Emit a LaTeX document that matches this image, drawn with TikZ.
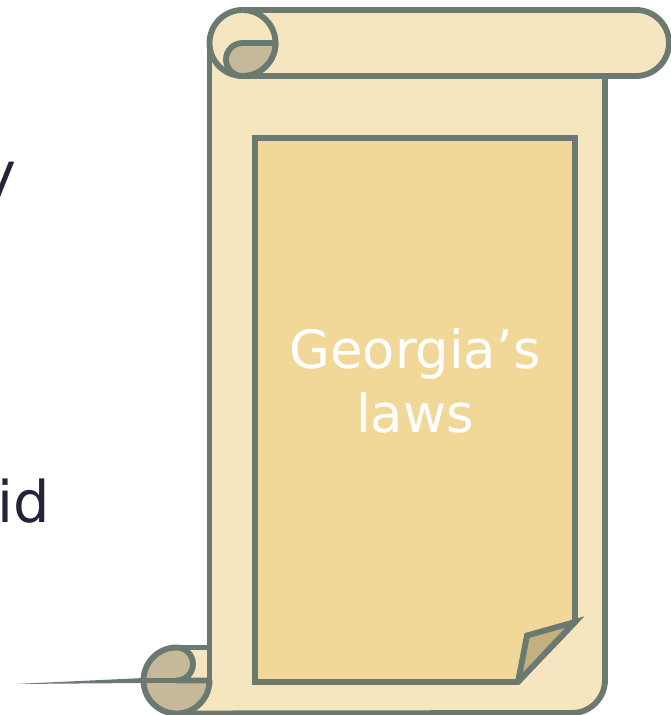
\documentclass[tikz,border=0pt]{standalone}
\usepackage{fontspec}
\setmainfont{DejaVu Sans}
\usepackage{tkz-euclide}
\definecolor{PaperClr}{HTML}{F5E6BF}
\definecolor{PanelClr}{HTML}{F1D899}
\definecolor{CurlClr}{HTML}{C6B99B}
\definecolor{FoldClr}{HTML}{C4AF7F}
\definecolor{EdgeClr}{HTML}{6B7A70}
\definecolor{InkClr}{HTML}{23233A}

\begin{document}
\begin{tikzpicture}[scale=.3]
\tkzSetUpLine[line width=5pt,color=EdgeClr]
\tikzset{edge/.style={line width=5pt,draw=EdgeClr,line cap=butt,line join=miter},
  curl/.style={edge,fill=CurlClr,line join=round},
  side/.style={font=\fontsize{49}{49}\selectfont,text=InkClr,inner sep=0pt},
  title/.style={font=\fontsize{45}{55}\selectfont,text=white,align=center,inner sep=0pt}}
\useasboundingbox (0,0) rectangle (67.1,71.5);
\clip (0,0) rectangle (67.1,71.5);

\tkzDefPoints{25.5/3.3/A,51.8/3.3/E,57.5/9.3/D,57.5/57.7/C,25.5/57.7/B,52.7/7.95/F}
\tkzDefMidPoint(E,D) \tkzGetPoint{M}

% text that the sheet cuts off on the left
\node[side,anchor=base east] (SideY) at (1.7,52.1) {y};
\node[side,anchor=base east] (SideId) at (5.05,19.2) {id};

% sheet
\fill[PaperClr] (17.65,6.75) -- (20.95,6.75) -- (20.95,68) -- (60.5,68) -- (60.5,3.5)
  arc[start angle=0,end angle=-90,radius=3.3] -- (17.65,.2) -- cycle;
\draw[edge] (20.95,3.1) -- (20.95,67.2);
\draw[edge] (60.5,63.9) -- (60.5,3.5) arc[start angle=0,end angle=-90,radius=3.3] -- (17.65,.15);

% roll at the top
\draw[edge,fill=PaperClr] (20.95,67.2) arc[start angle=180,end angle=90,radius=3.3] -- (63.6,70.5)
  arc[start angle=90,end angle=-90,radius=3.3] -- (24.25,63.9)
  arc[start angle=270,end angle=180,radius=3.3];
\draw[edge,fill=PaperClr] (24.25,70.5) arc[start angle=90,end angle=-90,radius=3.3];
\draw[curl] (27.55,67.2) -- (24.25,67.2) arc[start angle=90,end angle=270,radius=1.65]
  arc[start angle=-90,end angle=0,radius=3.3] -- cycle;

% roll at the bottom
\draw[edge] (17.65,6.75) -- (21.2,6.75);
\draw[curl] (17.65,6.75) arc[start angle=90,end angle=-90,radius=1.65] -- (20.95,3.45)
  arc[start angle=0,end angle=-270,radius=3.3] -- cycle;
\draw[edge] (14.35,3.45) -- (20.95,3.45);
\fill[EdgeClr] (1.5,3.1) -- (14.4,3.7) -- (14.4,3.2) -- cycle;

% panel with the turned corner
\tkzFillPolygon[fill=PanelClr](A,E,D,C,B)
\tkzFillPolygon[fill=FoldClr](E,F,D)
\tkzDrawPolygon[edge](A,E,D,C,B)
\draw[edge] (M) -- (D) -- (F) -- (E);

\node[title] (LawsLbl) at (41.5,33.4) {Georgia’s\\laws};

\end{tikzpicture}
\end{document}
